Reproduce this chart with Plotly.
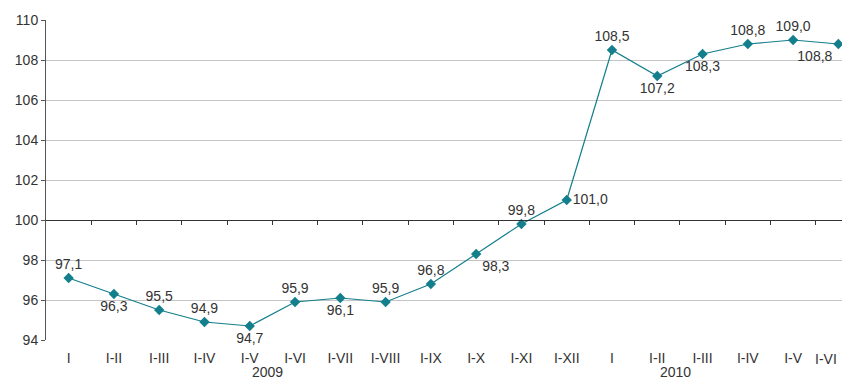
import plotly.graph_objects as go

# dados
categorias = ['I', 'I-II', 'I-III', 'I-IV', 'I-V', 'I-VI', 'I-VII', 'I-VIII', 'I-IX',
              'I-X', 'I-XI', 'I-XII', 'I', 'I-II', 'I-III', 'I-IV', 'I-V', 'I-VI']
valores = [97.1, 96.3, 95.5, 94.9, 94.7, 95.9, 96.1, 95.9, 96.8,
           98.3, 99.8, 101.0, 108.5, 107.2, 108.3, 108.8, 109.0, 108.8]
posicoes_texto = ['top center', 'bottom center', 'top center', 'top center', 'bottom center',
                  'top center', 'bottom center', 'top center', 'top center', 'bottom right',
                  'top center', 'middle right', 'top center', 'bottom center', 'bottom center',
                  'top center', 'top center', 'bottom left']
anos = ['2009', '2010']
ano_x = [4.4, 13.4]
y_ticks = [94, 96, 98, 100, 102, 104, 106, 108, 110]

x = list(range(len(categorias)))
textos = [f'{v:.1f}'.replace('.', ',') for v in valores]

# o ultimo rotulo encosta na borda: vai como anotacao alinhada a direita
rotulos_x = categorias[:-1] + ['']

cor = '#137f8c'
fonte = dict(family='Liberation Sans, Arial, sans-serif', size=14, color='#333333')

fig = go.Figure()

fig.add_trace(go.Scatter(
    x=x, y=valores,
    mode='lines+markers+text',
    line=dict(color=cor, width=1.2),
    marker=dict(symbol='diamond', size=8, color=cor),
    text=textos,
    textposition=posicoes_texto,
    textfont=fonte,
    cliponaxis=False,
    showlegend=False
))

# eixo auxiliar na linha dos 100 (linha escura com marcas entre as categorias)
fig.add_trace(go.Scatter(x=[x[0]], y=[valores[0]], xaxis='x2', mode='markers',
                         marker=dict(opacity=0), showlegend=False, hoverinfo='skip'))

intervalo = [-0.5, len(categorias) - 1 + 0.08]

fig.update_layout(
    width=842, height=388,
    margin=dict(l=46, r=0, t=20, b=48),
    paper_bgcolor='white', plot_bgcolor='white',
    font=fonte,
    xaxis=dict(
        range=intervalo, automargin=False,
        tickvals=x, ticktext=rotulos_x,
        showgrid=False, zeroline=False, showline=False,
        ticks='outside', ticklen=5, tickcolor='rgba(0,0,0,0)',
        tickfont=fonte
    ),
    xaxis2=dict(
        range=intervalo, overlaying='x', anchor='free', automargin=False,
        position=(100 - y_ticks[0]) / (y_ticks[-1] - y_ticks[0]),
        tickvals=[i + 0.5 for i in x], showticklabels=False,
        ticks='outside', ticklen=4, tickcolor='#333333',
        showline=True, linecolor='#333333', linewidth=1,
        showgrid=False, zeroline=False
    ),
    yaxis=dict(
        range=[y_ticks[0], y_ticks[-1]], automargin=False,
        tickvals=y_ticks,
        showgrid=True, gridcolor='#c4c4c4', gridwidth=1,
        zeroline=False,
        showline=True, linecolor='#555555', linewidth=1,
        ticks='outside', ticklen=4, tickcolor='#555555',
        tickfont=fonte
    )
)

fig.add_annotation(x=x[-1], y=0, xref='x', yref='paper', xanchor='right', yanchor='middle',
                   xshift=1, yshift=-19, text=categorias[-1], showarrow=False, font=fonte)

for ano, xa in zip(anos, ano_x):
    fig.add_annotation(x=xa, y=0, xref='x', yref='paper', yshift=-42,
                       text=ano, showarrow=False, font=fonte)

# tira a margem padrão do body e as barras de rolagem
fig.write_html("out.html",
               config={'displayModeBar': False},
               post_script="document.body.style.margin='0';document.body.style.overflow='hidden';")
